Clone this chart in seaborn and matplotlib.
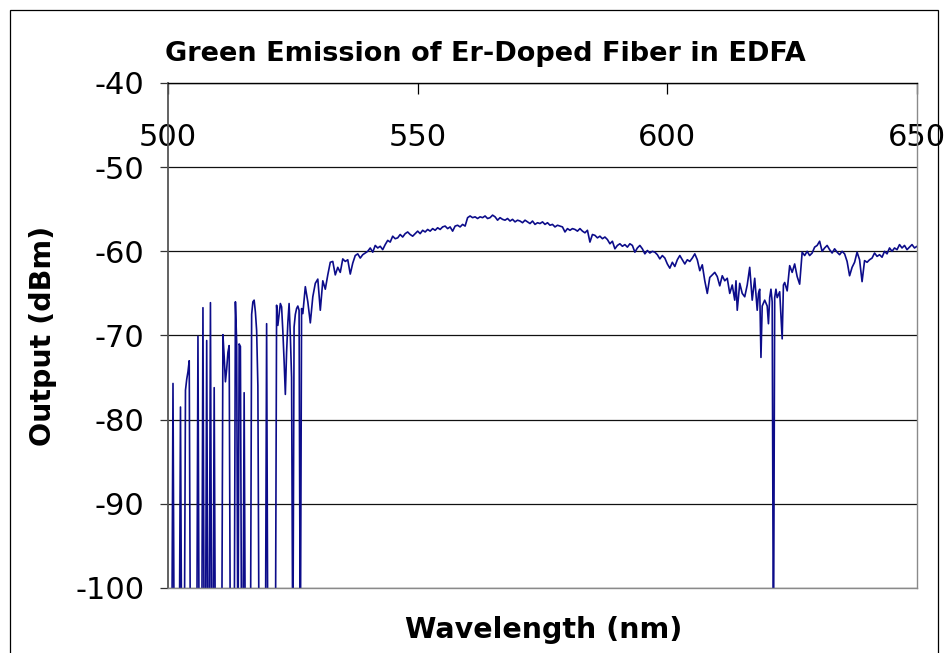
import matplotlib
matplotlib.use("Agg")
import matplotlib.pyplot as plt
import matplotlib.patches as mpatches
import seaborn as sns
import pandas as pd

# ---------------- data ----------------
NO_SIGNAL = -110.0  # below the plotted range -> drawn as drop to the floor

wavelength_nm = [
    500.0, 500.75, 501.0, 501.25,
    502.25, 502.5, 502.75,
    503.25, 503.5, 503.75, 504.0, 504.25, 504.5,
    505.75, 506.0, 506.25,
    506.75, 507.0, 507.25,
    507.5, 507.75, 508.0,
    508.25, 508.5, 508.75,
    509.0, 509.25, 509.5,
    510.75, 511.0, 511.25, 511.5, 511.75, 512.0, 512.25, 512.5,
    513.25, 513.5, 513.75, 514.0, 514.25, 514.5, 514.75,
    515.0, 515.25, 515.5,
    516.5, 516.75, 517.0, 517.25, 517.5, 517.75, 518.0, 518.25,
    519.5, 519.75, 520.0,
    521.5, 521.75, 522.0, 522.25, 522.5, 522.75, 523.0, 523.25, 523.5,
    523.75, 524.0, 524.25, 524.5, 524.75, 525.0, 525.25, 525.5, 525.75,
    526.0, 526.25, 526.5, 526.75, 527.0,
    527.5, 528.0, 528.5, 529.0, 529.5, 530.0, 530.5, 531.0, 531.5, 532.0,
    532.5, 533.0, 533.5, 534.0, 534.5, 535.0, 535.5, 536.0, 536.5, 537.0,
    537.5, 538.0, 538.5, 539.0, 539.5, 540.0, 540.5, 541.0, 541.5, 542.0,
    542.5, 543.0, 543.5, 544.0, 544.5, 545.0, 545.5, 546.0, 546.5, 547.0,
    547.5, 548.0, 548.5, 549.0, 549.5, 550.0, 550.5, 551.0, 551.5, 552.0,
    552.5, 553.0, 553.5, 554.0, 554.5, 555.0, 555.5, 556.0, 556.5, 557.0,
    557.5, 558.0, 558.5, 559.0, 559.5, 560.0, 560.5, 561.0, 561.5, 562.0,
    562.5, 563.0, 563.5, 564.0, 564.5, 565.0, 565.5, 566.0, 566.5, 567.0,
    567.5, 568.0, 568.5, 569.0, 569.5, 570.0, 570.5, 571.0, 571.5, 572.0,
    572.5, 573.0, 573.5, 574.0, 574.5, 575.0, 575.5, 576.0, 576.5, 577.0,
    577.5, 578.0, 578.5, 579.0, 579.5, 580.0, 580.5, 581.0, 581.5, 582.0,
    582.5, 583.0, 583.5, 584.0, 584.5, 585.0, 585.5, 586.0, 586.5, 587.0,
    587.5, 588.0, 588.5, 589.0, 589.5, 590.0, 590.5, 591.0, 591.5, 592.0,
    592.5, 593.0, 593.5, 594.0, 594.5, 595.0, 595.5, 596.0, 596.5, 597.0,
    597.5, 598.0, 598.5, 599.0, 599.5, 600.0, 600.5, 601.0, 601.5, 602.0,
    602.5, 603.0, 603.5, 604.0, 604.5, 605.0, 605.5, 606.0, 606.5, 607.0,
    607.5, 608.0, 608.5, 609.0, 609.5, 610.0, 610.5, 611.0, 611.5, 612.0,
    612.5, 613.0, 613.5, 613.75, 614.0, 614.5, 615.0, 615.5, 616.0, 616.5,
    617.0, 617.5, 618.0, 618.25, 618.5, 618.75, 619.0, 619.5, 620.0, 620.25,
    620.5, 620.75, 621.0, 621.25, 621.5, 621.75, 622.0, 622.5, 623.0, 623.25,
    623.5, 624.0, 624.5, 625.0, 625.5, 626.0, 626.5, 627.0, 627.5, 628.0,
    628.5, 629.0, 629.5, 630.0, 630.5, 631.0, 631.5, 632.0, 632.5, 633.0,
    633.5, 634.0, 634.5, 635.0, 635.5, 636.0, 636.5, 637.0, 637.5, 638.0,
    638.5, 639.0, 639.5, 640.0, 640.5, 641.0, 641.5, 642.0, 642.5, 643.0,
    643.5, 644.0, 644.5, 645.0, 645.5, 646.0, 646.5, 647.0, 647.5, 648.0,
    648.5, 649.0, 649.5, 650.0,
]

output_dbm = [
    NO_SIGNAL, NO_SIGNAL, -75.7, NO_SIGNAL,
    NO_SIGNAL, -78.5, NO_SIGNAL,
    NO_SIGNAL, -76.5, -75.2, -74.3, -73.0, NO_SIGNAL,
    NO_SIGNAL, -70.1, NO_SIGNAL,
    NO_SIGNAL, -66.7, NO_SIGNAL,
    NO_SIGNAL, -70.6, NO_SIGNAL,
    NO_SIGNAL, -66.1, NO_SIGNAL,
    NO_SIGNAL, -76.2, NO_SIGNAL,
    NO_SIGNAL, -69.9, -72.5, -75.5, -74.0, -72.0, -71.2, NO_SIGNAL,
    NO_SIGNAL, -66.0, -70.8, NO_SIGNAL, -71.0, -71.3, NO_SIGNAL,
    NO_SIGNAL, -76.8, NO_SIGNAL,
    NO_SIGNAL, -67.5, -66.0, -65.8, -67.2, -69.4, -76.0, NO_SIGNAL,
    NO_SIGNAL, -68.6, NO_SIGNAL,
    NO_SIGNAL, -66.4, -68.8, -67.5, -66.2, -66.6, -69.5, -73.0, -77.0,
    -72.0, -68.5, -66.2, -70.0, -75.0, NO_SIGNAL, -69.0, -67.5, -66.8,
    -66.5, -67.0, NO_SIGNAL, -66.8, -67.4,
    -64.2, -66.0, -68.5, -65.4, -63.8, -63.3, -67.0, -63.5, -64.5, -62.8,
    -61.3, -61.2, -62.8, -61.9, -62.5, -60.9, -61.2, -61.0, -62.7, -61.4,
    -60.5, -60.3, -60.8, -60.4, -60.2, -60.0, -59.6, -60.1, -59.3, -59.6,
    -59.4, -59.8, -59.2, -58.7, -58.9, -58.2, -58.5, -58.4, -58.0, -58.3,
    -57.9, -57.7, -58.0, -58.2, -57.9, -57.6, -57.9, -57.5, -57.7, -57.4,
    -57.6, -57.3, -57.5, -57.2, -57.4, -57.1, -57.0, -57.3, -57.1, -57.6,
    -57.0, -56.9, -57.1, -56.8, -57.0, -56.0, -55.8, -56.0, -55.9, -56.1,
    -55.9, -56.0, -55.8, -56.1, -56.0, -55.7, -55.9, -56.3, -56.0, -56.2,
    -56.3, -56.1, -56.4, -56.2, -56.5, -56.3, -56.4, -56.6, -56.3, -56.5,
    -56.7, -56.4, -56.8, -56.6, -56.7, -56.5, -56.8, -56.6, -56.9, -56.8,
    -57.1, -56.9, -57.0, -57.1, -57.7, -57.3, -57.5, -57.3, -57.4, -57.6,
    -57.3, -57.6, -57.8, -57.5, -58.9, -58.0, -58.1, -58.4, -58.2, -58.5,
    -58.3, -58.6, -59.1, -58.8, -59.7, -59.3, -59.1, -59.4, -59.2, -59.5,
    -59.1, -59.3, -60.1, -59.6, -59.3, -59.7, -60.3, -59.9, -60.2, -60.0,
    -60.1, -60.4, -60.9, -60.5, -60.8, -61.5, -62.0, -61.3, -61.8, -61.0,
    -60.5, -61.0, -61.5, -61.0, -61.2, -60.8, -60.3, -61.0, -62.3, -61.6,
    -63.5, -65.0, -63.1, -62.8, -62.5, -63.0, -64.1, -62.9, -63.5, -63.2,
    -65.0, -64.0, -65.8, -63.5, -67.0, -63.8, -65.0, -65.4, -64.0, -61.9,
    -65.8, -63.2, -67.0, -65.0, -64.5, -72.6, -66.5, -65.8, -66.5, -68.6,
    -65.5, -64.5, -66.0, NO_SIGNAL, -65.5, -64.5, -65.5, -64.8, -70.4, -64.0,
    -63.7, -64.7, -61.7, -62.5, -61.5, -63.0, -63.9, -60.1, -60.5, -60.0,
    -60.5, -60.2, -59.5, -59.3, -58.8, -60.0, -59.6, -59.3, -59.8, -60.2,
    -59.7, -60.1, -60.4, -60.0, -60.3, -61.2, -62.9, -61.9, -61.3, -60.1,
    -61.0, -63.6, -61.1, -61.3, -61.0, -60.8, -60.2, -60.6, -60.4, -60.7,
    -60.0, -60.3, -59.6, -60.0, -59.6, -59.8, -59.2, -59.6, -59.3, -59.8,
    -59.5, -59.2, -59.6, -59.4,
]

x_ticks = [500, 550, 600, 650]
y_ticks = [-40, -50, -60, -70, -80, -90, -100]

title_text = "Green Emission of Er-Doped Fiber in EDFA"
x_label = "Wavelength (nm)"
y_label = "Output (dBm)"

# ---------------- figure ----------------
sns.set_style("white")
plt.rcParams["font.family"] = ["DejaVu Sans"]
plt.rcParams["axes.unicode_minus"] = False
plt.rcParams["text.color"] = "black"
plt.rcParams["axes.labelcolor"] = "black"
plt.rcParams["xtick.color"] = "black"
plt.rcParams["ytick.color"] = "black"

W, H, DPI = 951, 653, 100
fig = plt.figure(figsize=(W / DPI, H / DPI), dpi=DPI)
fig.patch.set_facecolor("white")

L, R, T, B = 168, 917, 83, 588
ax = fig.add_axes([L / W, 1 - B / H, (R - L) / W, (B - T) / H])

df = pd.DataFrame({"wavelength": wavelength_nm, "output": output_dbm})
sns.lineplot(data=df, x="wavelength", y="output", ax=ax, sort=False,
             estimator=None, color="#0c0c8a", linewidth=1.2)

ax.set_xlim(500, 650)
ax.set_ylim(-100, -40)
ax.set_xticks(x_ticks)
ax.set_xticklabels([str(v) for v in x_ticks])
ax.set_yticks(y_ticks)
ax.set_yticklabels([str(v) for v in y_ticks])

# gridlines
ax.yaxis.grid(True, color="#111111", linewidth=0.9)
ax.xaxis.grid(False)
ax.set_axisbelow(True)

# spines
ax.spines["top"].set_color("black")
ax.spines["top"].set_linewidth(1.0)
ax.spines["left"].set_color("#555555")
ax.spines["left"].set_linewidth(1.3)
ax.spines["right"].set_color("#8a8a8a")
ax.spines["right"].set_linewidth(1.0)
ax.spines["bottom"].set_color("#8a8a8a")
ax.spines["bottom"].set_linewidth(1.0)

# x axis at the top, labels just under it inside the plot
ax.tick_params(axis="x", bottom=False, labelbottom=False, top=True,
               labeltop=True, direction="in", length=8, width=0.9,
               color="black", labelcolor="black", pad=-50, labelsize=22)
ax.tick_params(axis="y", left=True, direction="out", length=6, width=0.9,
               color="#333333", labelcolor="black", pad=11, labelsize=22)

ax.set_xlabel(x_label, fontsize=20.5, fontweight="bold", color="black")
ax.set_ylabel(y_label, fontsize=20.5, fontweight="bold", color="black")
ax.xaxis.set_label_position("bottom")
ax.xaxis.set_label_coords((544 - L) / (R - L), (B - 616) / (B - T))
ax.yaxis.set_label_coords((57 - L) / (R - L), 0.5)
ax.xaxis.label.set_va("top")

fig.text(485 / W, 1 - 61 / H, title_text, fontsize=19.5, fontweight="bold",
         ha="center", va="baseline", color="black")

# outer chart border
fig.patches.append(mpatches.Rectangle((10 / W, -0.02), 928 / W, 1 - 10 / H + 0.02,
                                      transform=fig.transFigure, fill=False,
                                      edgecolor="black", linewidth=0.9))

fig.savefig("out.png", dpi=DPI)
